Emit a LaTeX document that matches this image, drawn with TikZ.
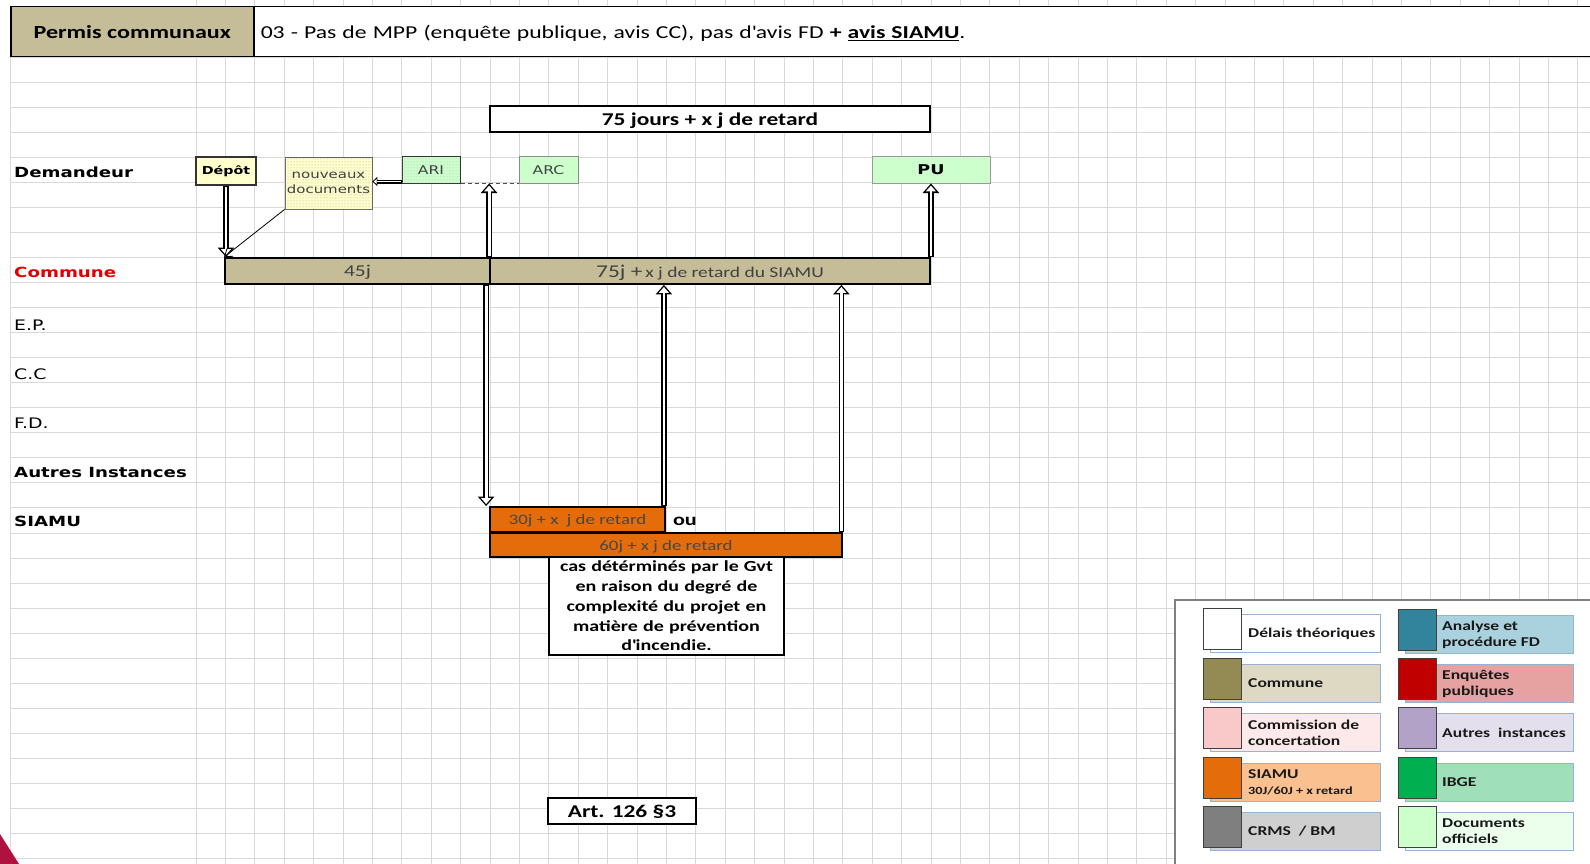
\documentclass[tikz,border=0pt]{standalone}
\usepackage{fontspec}
\setmainfont{Carlito}[FakeStretch=1.3]
\newfontfamily\verd{DejaVu Sans}[FakeStretch=1.3]
\usetikzlibrary{arrows.meta, patterns, positioning}

\definecolor{gridgray}{HTML}{D9D9D9}
\definecolor{tanbar}{HTML}{C4BD97}
\definecolor{siamuor}{HTML}{E46C0A}
\definecolor{docgreen}{HTML}{CCFFCC}
\definecolor{depotyel}{HTML}{FFFFCC}
\definecolor{comred}{HTML}{E00000}
\definecolor{crimson}{HTML}{B0123F}
\definecolor{legblue}{HTML}{95B3D7}
% legende : carre fonce / etiquette claire
\definecolor{swcom}{HTML}{948A54}  \definecolor{lbcom}{HTML}{DDD9C3}
\definecolor{swcc}{HTML}{F9C8C8}   \definecolor{lbcc}{HTML}{FDE9EA}
\definecolor{swsia}{HTML}{E46C0A}  \definecolor{lbsia}{HTML}{FAC090}
\definecolor{swcrms}{HTML}{7F7F7F} \definecolor{lbcrms}{HTML}{CFCFCF}
\definecolor{swfd}{HTML}{31849B}   \definecolor{lbfd}{HTML}{A9D2DE}
\definecolor{swep}{HTML}{C00000}   \definecolor{lbep}{HTML}{E6A1A1}
\definecolor{swai}{HTML}{B3A2C7}   \definecolor{lbai}{HTML}{E4DFEC}
\definecolor{swibge}{HTML}{00B050} \definecolor{lbibge}{HTML}{9FE0BA}
\definecolor{swdoc}{HTML}{CCFFCC}  \definecolor{lbdoc}{HTML}{ECFFEC}

\newcommand{\fsz}[2]{\fontsize{#1}{#2}\selectfont}

\tikzstyle{gridline} = [draw=gridgray, line width=0.9pt]
\tikzstyle{rowlabel} = [anchor=west, inner sep=0pt, font=\verd\bfseries\fsz{14}{16}]
\tikzstyle{rowlabelthin} = [anchor=west, inner sep=0pt, font=\verd\fsz{14.5}{16}]
\tikzstyle{bar} = [rectangle, draw=black, line width=1.8pt, inner sep=0pt,
  text depth=0pt, text=black!75]
\tikzstyle{combar} = [bar, fill=tanbar, minimum height=26pt]
\tikzstyle{siamubar} = [bar, fill=siamuor, minimum height=25pt, font=\fsz{14.5}{16},
  text=black!72]
\tikzstyle{smallbox} = [rectangle, inner sep=0pt, minimum height=26pt,
  font=\verd\fsz{12}{14}]
\tikzstyle{hollow} = [line width=5.6pt, -{Triangle[length=9.5pt, width=16pt]},
  postaction={draw=white, line width=2.8pt, shorten <=1.3pt, shorten >=2.1pt,
  -{Triangle[length=5.8pt, width=9.8pt]}}]
\tikzstyle{hollowsmall} = [line width=4pt, -{Triangle[length=5pt, width=9pt]},
  postaction={draw=white, line width=1.8pt, shorten <=1pt, shorten >=1.5pt,
  -{Triangle[length=2.8pt, width=5pt]}}]
\tikzstyle{thinarrow} = [line width=0.8pt, -{Straight Barb[length=7pt, width=10pt]}]
\tikzstyle{dashline} = [line width=1pt, draw=black!70, dash pattern=on 4pt off 3pt]
\tikzstyle{legsw} = [rectangle, anchor=north west, minimum width=38pt,
  minimum height=41pt, draw=black!75, line width=1pt, inner sep=0pt]
\tikzstyle{leglb} = [rectangle, anchor=north west, minimum height=38pt,
  draw=legblue, line width=1pt, inner sep=0pt]
\tikzstyle{legtext} = [anchor=west, inner sep=0pt, align=left,
  font=\bfseries\fsz{13.5}{16}, text=black!90]

\begin{document}
\begin{tikzpicture}[x=1pt, y=-1pt]
\useasboundingbox (0,0) rectangle (1590,864);
\fill[white] (0,0) rectangle (1590,864);

% quadrillage de la feuille
\foreach \k in {0,...,32}
  \draw[gridline] (10,{57+25.05*\k}) -- (1590,{57+25.05*\k});
\foreach \k in {0,...,47}
  \draw[gridline] ({196+29.4*\k},0) -- ({196+29.4*\k},864);
\draw[gridline] (10,57) -- (10,864);

% en-tete
\node[rectangle, anchor=north west, draw=black, line width=1.5pt, fill=tanbar,
  minimum width=243pt, minimum height=50pt, inner sep=0pt,
  font=\bfseries\fsz{18.5}{21}] (permis) at (10,6) {Permis communaux};
\node[rectangle, anchor=north west, draw=black, line width=1.5pt, fill=white,
  text width=1340pt, align=left, minimum height=50pt, inner xsep=7pt, inner ysep=0pt,
  text depth=0pt, font=\fsz{18.2}{21}] (titre) at (253,6)
  {03 - Pas de MPP (enquête publique, avis CC), pas d\textquotesingle avis FD \textbf{+ \underline{avis SIAMU}}.};

% acteurs
\node[rowlabel] (lbldem) at (14,172) {Demandeur};
\node[rowlabel, text=comred] (lblcom) at (14,272) {Commune};
\node[rowlabelthin] (lblep) at (14,325) {E.P.};
\node[rowlabelthin] (lblcc) at (14,374) {C.C};
\node[rowlabelthin] (lblfd) at (14,423) {F.D.};
\node[rowlabel] (lblai) at (14,472) {Autres Instances};
\node[rowlabel] (lblsiamu) at (14,521) {SIAMU};

% delai global
\node[bar, fill=white, minimum width=440pt, minimum height=26pt,
  font=\bfseries\fsz{18}{20}, text=black] (jours) at (710,119) {75 jours + x j de retard};

% demandeur
\node[smallbox, fill=depotyel, draw=black!80, line width=2pt, minimum width=60pt,
  minimum height=28pt, font=\verd\bfseries\fsz{11}{12}] (depot) at (226,171) {Dépôt};
\node[smallbox, fill=depotyel, draw=black!60, line width=0.8pt, minimum width=87pt,
  minimum height=52pt, align=center, font=\verd\fsz{11.5}{14.5}, text=black!75,
  postaction={pattern=dots, pattern color=black!35}] (nouv) at (328.5,183) {nouveaux\\documents};
\node[smallbox, fill=docgreen, draw=black!80, line width=1pt, minimum width=58pt,
  text=black!75, postaction={pattern=dots, pattern color=black!30}] (ari) at (431,170) {ARI};
\node[smallbox, fill=docgreen, draw=black!45, line width=1pt, minimum width=59pt,
  text=black!75] (arc) at (548.5,170) {ARC};
\node[smallbox, fill=docgreen, draw=black!40, line width=1pt, minimum width=118pt,
  font=\verd\bfseries\fsz{13.5}{15}] (pu) at (931,170) {PU};

% commune
\node[combar, minimum width=265pt, font=\fsz{16.5}{18}] (bar45) at (357.5,271) {45j};
\node[combar, minimum width=440pt] (bar75) at (710,271)
  {{\fsz{18}{20}75j +} {\fsz{15}{17}x j de retard du SIAMU}};

% SIAMU
\node[rectangle, draw=black, line width=1.2pt, fill=white, minimum width=235pt,
  minimum height=98pt, text width=230pt, align=center, inner sep=0pt,
  font=\bfseries\fsz{15.4}{19.8}] (note) at (666.5,606)
  {cas détérminés par le Gvt\\en raison du degré de\\complexité du projet en\\matière de prévention\\d\textquotesingle incendie.};
\node[siamubar, minimum width=175pt] (bar30) at (577.5,519.5) {30j + x \ j de retard};
\node[siamubar, minimum width=352pt, minimum height=24pt] (bar60) at (666,545) {60j + x j de retard};
\node[inner sep=0pt, font=\bfseries\fsz{17}{19}, right=7pt of bar30, yshift=-2pt] (ou) {ou};

\node[bar, fill=white, minimum width=148pt, minimum height=26pt,
  font=\bfseries\fsz{18}{20}, text=black] (art) at (622,811) {Art. 126 §3};

% fleches
\coordinate (ariout) at ([yshift=2pt]ari.south west);
\coordinate (dn) at ([xshift=-3pt]bar75.south west);
\coordinate (up30) at ([xshift=-2pt]bar30.north east);
\coordinate (up60) at ([xshift=-1.5pt]bar60.north east);
\draw[hollow] (depot.south) -- (depot.south |- bar45.north);
\draw[thinarrow] (nouv.south west) -- (bar45.north west);
\draw[hollowsmall] (ariout) -- (ariout -| nouv.east);
\draw[dashline] (ari.south east) -- (arc.south west);
\draw[hollow] (bar75.north west) -- (bar75.north west |- arc.south);
\draw[hollow] (bar75.north east) -- (bar75.north east |- pu.south);
\draw[hollow] (dn) -- (dn |- bar30.north);
\draw[hollow] (up30) -- (up30 |- bar75.south);
\draw[hollow] (up60) -- (up60 |- bar75.south);

% legende
\node[rectangle, draw=black!50, line width=1.5pt, fill=white, anchor=north west,
  minimum width=430pt, minimum height=280pt] (legend) at (1174,599) {};

\node[leglb, fill=white, minimum width=170pt] (lb1) at (1210,614) {};
\node[legsw, fill=white] (sw1) at (1203,608) {};
\node[legtext] (lt1) at ([xshift=38pt]lb1.west) {Délais théoriques};
\node[leglb, fill=lbcom, minimum width=170pt] (lb2) at (1210,664) {};
\node[legsw, fill=swcom] (sw2) at (1203,658) {};
\node[legtext] (lt2) at ([xshift=38pt]lb2.west) {Commune};
\node[leglb, fill=lbcc, minimum width=170pt] (lb3) at (1210,713) {};
\node[legsw, fill=swcc] (sw3) at (1203,707) {};
\node[legtext] (lt3) at ([xshift=38pt]lb3.west) {Commission de\\concertation};
\node[leglb, fill=lbsia, minimum width=170pt] (lb4) at (1210,763) {};
\node[legsw, fill=swsia] (sw4) at (1203,757) {};
\node[legtext] (lt4) at ([xshift=38pt]lb4.west) {SIAMU\\{\fsz{11}{16}30J/60J + x retard}};
\node[leglb, fill=lbcrms, minimum width=170pt] (lb5) at (1210,812) {};
\node[legsw, fill=swcrms] (sw5) at (1203,806) {};
\node[legtext] (lt5) at ([xshift=38pt]lb5.west) {CRMS \ / BM};

\node[leglb, fill=lbfd, minimum width=168pt] (lb6) at (1405,615) {};
\node[legsw, fill=swfd] (sw6) at (1398,609) {};
\node[legtext] (lt6) at ([xshift=37pt]lb6.west) {Analyse et\\procédure FD};
\node[leglb, fill=lbep, minimum width=168pt] (lb7) at (1405,664) {};
\node[legsw, fill=swep] (sw7) at (1398,658) {};
\node[legtext] (lt7) at ([xshift=37pt]lb7.west) {Enquêtes\\publiques};
\node[leglb, fill=lbai, minimum width=168pt] (lb8) at (1405,713) {};
\node[legsw, fill=swai] (sw8) at (1398,707) {};
\node[legtext] (lt8) at ([xshift=37pt]lb8.west) {Autres \ instances};
\node[leglb, fill=lbibge, minimum width=168pt] (lb9) at (1405,763) {};
\node[legsw, fill=swibge] (sw9) at (1398,757) {};
\node[legtext] (lt9) at ([xshift=37pt]lb9.west) {IBGE};
\node[leglb, fill=lbdoc, minimum width=168pt] (lb10) at (1405,812) {};
\node[legsw, fill=swdoc] (sw10) at (1398,806) {};
\node[legtext] (lt10) at ([xshift=37pt]lb10.west) {Documents\\officiels};

% coin du logo
\fill[crimson] (0,834) -- (19,864) -- (0,864) -- cycle;
\end{tikzpicture}
\end{document}
